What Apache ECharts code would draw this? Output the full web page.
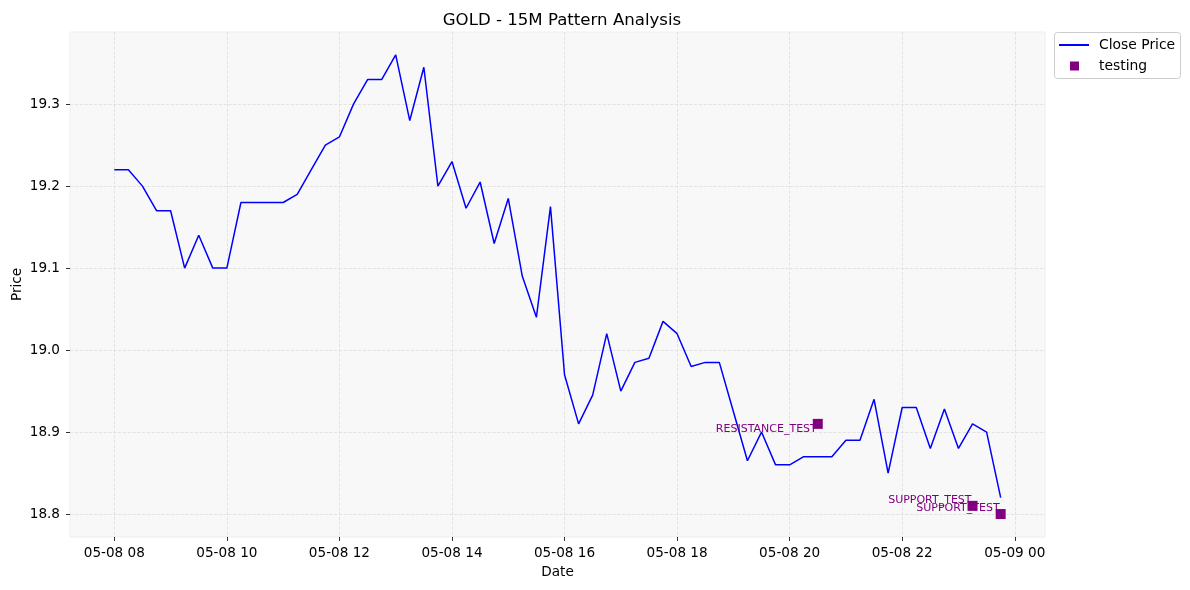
<!DOCTYPE html>
<html>
<head>
<meta charset="utf-8">
<script src="https://cdn.jsdelivr.net/npm/echarts@6/dist/echarts.min.js"></script>
<style>
  html, body { margin: 0; padding: 0; background: #ffffff; }
  #chart { width: 1190px; height: 590px; }
</style>
</head>
<body>
<div id="chart"></div>
<script>
// 15 分钟收盘价, 05-08 08:00 起
const closePrices = [
  19.22, 19.22, 19.20, 19.17, 19.17, 19.10, 19.14, 19.10,
  19.10, 19.18, 19.18, 19.18, 19.18, 19.19, 19.22, 19.25,
  19.26, 19.30, 19.33, 19.33, 19.36, 19.28, 19.345, 19.20,
  19.23, 19.173, 19.205, 19.13, 19.185, 19.09, 19.04, 19.175,
  18.97, 18.91, 18.945, 19.02, 18.95, 18.985, 18.99, 19.035,
  19.02, 18.98, 18.985, 18.985, 18.925, 18.865, 18.90, 18.86,
  18.86, 18.87, 18.87, 18.87, 18.89, 18.89, 18.94, 18.85,
  18.93, 18.93, 18.88, 18.928, 18.88, 18.91, 18.90, 18.82
];

// 形态标记
const patternTimes = ['20:30', '23:15', '23:45'];
const patternPrices = [18.91, 18.81, 18.80];
const patternNames = ['RESISTANCE_TEST', 'SUPPORT_TEST', 'SUPPORT_TEST'];

// 刻度
const xTickHours = [8, 10, 12, 14, 16, 18, 20, 22, 24];
const yTicks = [18.8, 18.9, 19.0, 19.1, 19.2, 19.3];

const STEP = 15 * 60 * 1000;
const startTime = new Date(2024, 4, 8, 8, 0).getTime();

const priceData = closePrices.map((v, i) => [startTime + i * STEP, v]);

function toTime(hhmm) {
  const parts = hhmm.split(':');
  return new Date(2024, 4, 8, +parts[0], +parts[1]).getTime();
}

const patternData = patternTimes.map((t, i) => ({
  value: [toTime(t), patternPrices[i]],
  name: patternNames[i],
  label: { offset: i === 0 ? [0, 5] : [0, -6] }
}));

const xTickValues = xTickHours.map(h => new Date(2024, 4, 8, h, 0).getTime());

const pad2 = n => (n < 10 ? '0' : '') + n;

// 左右各留 5% 边距 (同 matplotlib)
const span = (closePrices.length - 1) * STEP;
const xMin = startTime - span * 0.05;
const xMax = startTime + span * 1.05;

const option = {
  animation: false,
  backgroundColor: '#ffffff',
  textStyle: { fontFamily: 'DejaVu Sans' },
  title: {
    text: 'GOLD - 15M Pattern Analysis',
    left: 557,
    top: 7,
    textAlign: 'center',
    textStyle: { fontSize: 16.6, fontWeight: 'normal', color: '#000' }
  },
  legend: [
    {
      data: [{ name: 'Close Price', icon: 'rect' }],
      left: 1054,
      top: 33,
      itemWidth: 30,
      itemHeight: 2,
      textStyle: { fontSize: 13.9, color: '#000', padding: [0, 0, 0, 5] }
    },
    {
      data: [{ name: 'testing', icon: 'rect' }],
      left: 1065,
      top: 54,
      itemWidth: 9,
      itemHeight: 9,
      textStyle: { fontSize: 13.9, color: '#000', padding: [0, 0, 0, 15] }
    }
  ],
  graphic: [{
    type: 'rect',
    left: 1054,
    top: 32,
    z: -1,
    shape: { width: 126, height: 46, r: 3 },
    style: { fill: '#ffffff', stroke: '#cccccc', lineWidth: 1 }
  }],
  grid: {
    left: 70,
    right: 145,
    top: 32,
    bottom: 53,
    outerBoundsMode: 'none',
    show: true,
    backgroundColor: '#f8f8f8',
    borderColor: '#eeeeee',
    borderWidth: 1
  },
  xAxis: {
    type: 'value',
    min: xMin,
    max: xMax,
    name: 'Date',
    nameLocation: 'middle',
    nameGap: 28,
    nameMoveOverlap: false,
    nameTextStyle: { fontSize: 13.6, color: '#000' },
    axisLine: { show: false },
    axisTick: {
      show: true, length: 4, lineStyle: { color: '#333' },
      customValues: xTickValues
    },
    axisLabel: {
      customValues: xTickValues,
      fontSize: 13.6,
      color: '#000',
      margin: 9,
      formatter: v => {
        const d = new Date(v);
        return pad2(d.getMonth() + 1) + '-' + pad2(d.getDate()) + ' ' + pad2(d.getHours());
      }
    },
    splitLine: { show: true, lineStyle: { color: '#dddddd', type: 'dashed', width: 0.8 } }
  },
  yAxis: {
    type: 'value',
    min: 18.772,
    max: 19.388,
    name: 'Price',
    nameLocation: 'middle',
    nameGap: 46,
    nameMoveOverlap: false,
    nameTextStyle: { fontSize: 13.6, color: '#000' },
    axisLine: { show: false },
    axisTick: {
      show: true, length: 4, lineStyle: { color: '#333' },
      customValues: yTicks
    },
    axisLabel: {
      customValues: yTicks,
      fontSize: 13.6,
      color: '#000',
      margin: 10,
      formatter: v => v.toFixed(1)
    },
    splitLine: { show: true, lineStyle: { color: '#dddddd', type: 'dashed', width: 0.8 } }
  },
  series: [
    {
      name: 'Close Price',
      type: 'line',
      data: priceData,
      showSymbol: false,
      lineStyle: { color: '#0000ff', width: 1.5 },
      itemStyle: { color: '#0000ff' }
    },
    {
      name: 'testing',
      type: 'scatter',
      data: patternData,
      symbol: 'rect',
      symbolSize: 10,
      itemStyle: { color: '#800080', opacity: 1 },
      label: {
        show: true,
        position: 'left',
        distance: -4,
        formatter: p => p.name,
        fontSize: 11,
        color: '#800080'
      },
      z: 3
    }
  ]
};

const chart = echarts.init(document.getElementById('chart'));
chart.setOption(option);
</script>
</body>
</html>
